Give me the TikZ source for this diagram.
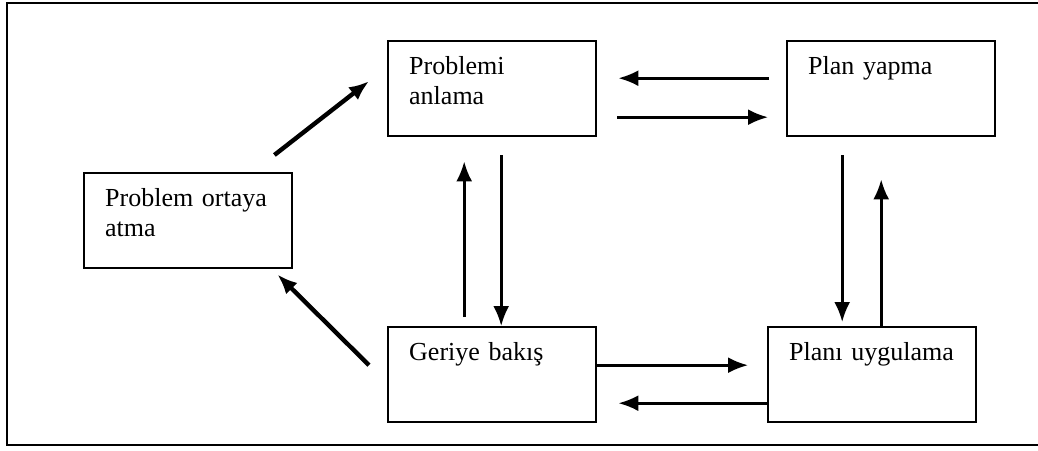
\documentclass[tikz,border=0pt]{standalone}
\usepackage{fontspec}
\setmainfont{Liberation Serif}
\usetikzlibrary{arrows.meta,calc}

\begin{document}
\begin{tikzpicture}[x=0.5pt, y=-0.5pt, >={Latex[length=10pt,width=8pt]},
    stage/.style={draw, line width=1.2pt, anchor=north west, inner xsep=10.5pt, inner ysep=0pt,
      text width=83pt, align=left, text height=16.5pt, text depth=31pt,
      font=\fontsize{13}{15}\selectfont},
    flow/.style={->, line width=1.3pt},
    slant/.style={->, line width=2.2pt}]
    \useasboundingbox (0,0) rectangle (1038,450);
    \draw [line width=1.2pt] (1038,3) -- (7,3) -- (7,445) -- (1038,445);

    \node [stage] (ortaya) at (83,172) {Problem ortaya\\atma};
    \node [stage] (anlama) at (387,40) {Problemi\\anlama};
    \node [stage] (yapma) at (786,40) {Plan yapma};
    \node [stage] (geriye) at (387,326) {Geriye bakış};
    \node [stage] (uygulama) at (767,326) {Planı uygulama};

    \draw [slant] ($(ortaya.north east)+(-19,-17)$) -- ($(anlama.west)+(-18,-7.5)$);
    \draw [slant] ($(geriye.west)+(-18,-9.5)$) -- ($(ortaya.south east)+(-16,5)$);

    \draw [flow, shorten <=8.5pt, shorten >=10.5pt] ([yshift=5.25pt]yapma.west) -- ([yshift=5.25pt]anlama.east);
    \draw [flow, shorten <=10pt, shorten >=9pt] ([yshift=-14.25pt]anlama.east) -- ([yshift=-14.25pt]yapma.west);
    \draw [flow, shorten <=9pt] ([xshift=4.5pt]anlama.south) -- ([xshift=4.5pt]anlama.south |- geriye.north);
    \draw [flow, shorten <=4.5pt, shorten >=12pt] ([xshift=-14pt]geriye.north) -- ([xshift=-14pt]geriye.north |- anlama.south);
    \draw [flow, shorten <=9pt, shorten >=2pt] ([xshift=-24.5pt]yapma.south) -- ([xshift=-24.5pt]yapma.south |- uygulama.north);
    \draw [flow, shorten >=21pt] ([xshift=4.5pt]uygulama.north) -- ([xshift=4.5pt]uygulama.north |- yapma.south);
    \draw [flow, shorten >=9.5pt] ([yshift=4.75pt]geriye.east) -- ([yshift=4.75pt]uygulama.west);
    \draw [flow, shorten >=10.5pt] ([yshift=-14.25pt]uygulama.west) -- ([yshift=-14.25pt]geriye.east);
\end{tikzpicture}
\end{document}
